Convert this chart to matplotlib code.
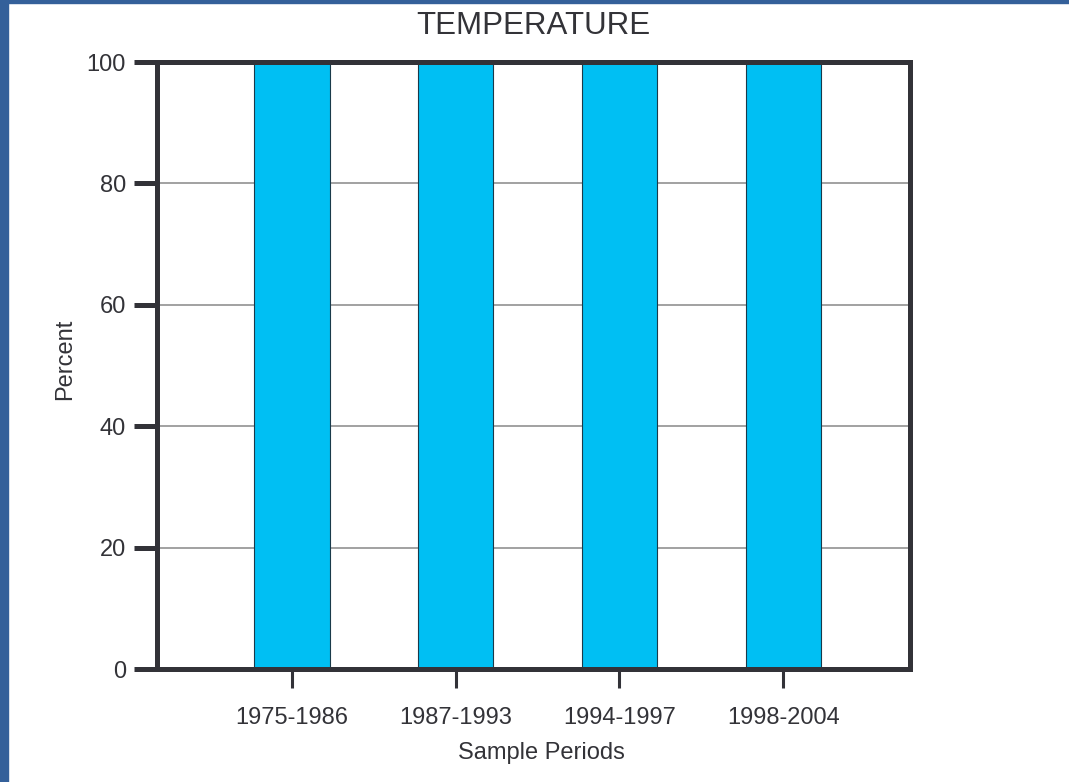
import numpy as np
import matplotlib.pyplot as plt
from matplotlib.patches import Rectangle

# data
periods = ['1975-1986', '1987-1993', '1994-1997', '1998-2004']
percent = [100, 100, 100, 100]
yticks = [0, 20, 40, 60, 80, 100]

plt.rcParams['font.family'] = ['Liberation Sans', 'DejaVu Sans']
text_col = '#333338'
frame_col = '#323238'

fig = plt.figure(figsize=(10.69, 7.82), dpi=100)
ax = fig.add_axes([0.1469, 0.1445, 0.7044, 0.7762])

x = np.arange(len(periods))
ax.bar(x, percent, width=0.46, color='#00BFF3', edgecolor='#1a3a4a', linewidth=0.8, zorder=2)

ax.set_xlim(-0.825, 3.775)
ax.set_ylim(0, 100)
ax.set_yticks(yticks)
ax.set_xticks(x)
ax.set_xticklabels(periods)

ax.yaxis.grid(True, color='#9a9a9a', linewidth=1.3, zorder=0)
ax.set_axisbelow(True)

for s in ax.spines.values():
    s.set_linewidth(3.6)
    s.set_color(frame_col)
    s.set_zorder(3)

ax.tick_params(axis='y', direction='out', length=16.5, width=3.6, color=frame_col,
               labelsize=17, labelcolor=text_col, pad=6)
ax.tick_params(axis='x', direction='out', length=14, width=2.2, color=frame_col,
               labelsize=17, labelcolor=text_col, pad=13)

ax.set_title('TEMPERATURE', fontsize=22.5, color=text_col, pad=20)
ax.set_xlabel('Sample Periods', fontsize=17, color=text_col)
ax.set_ylabel('Percent', fontsize=17, color=text_col)
ax.xaxis.set_label_coords(0.511, -0.12)
ax.yaxis.set_label_coords(-0.108, 0.51)

# blue frame strips at the left and top edges of the picture
fig.patches.append(Rectangle((0, 0), 8 / 1069, 1, transform=fig.transFigure,
                             color='#34609A', zorder=10))
fig.patches.append(Rectangle((0, 1 - 3 / 782), 1, 3 / 782, transform=fig.transFigure,
                             color='#34609A', zorder=10))

plt.savefig('out.png', dpi=100)
